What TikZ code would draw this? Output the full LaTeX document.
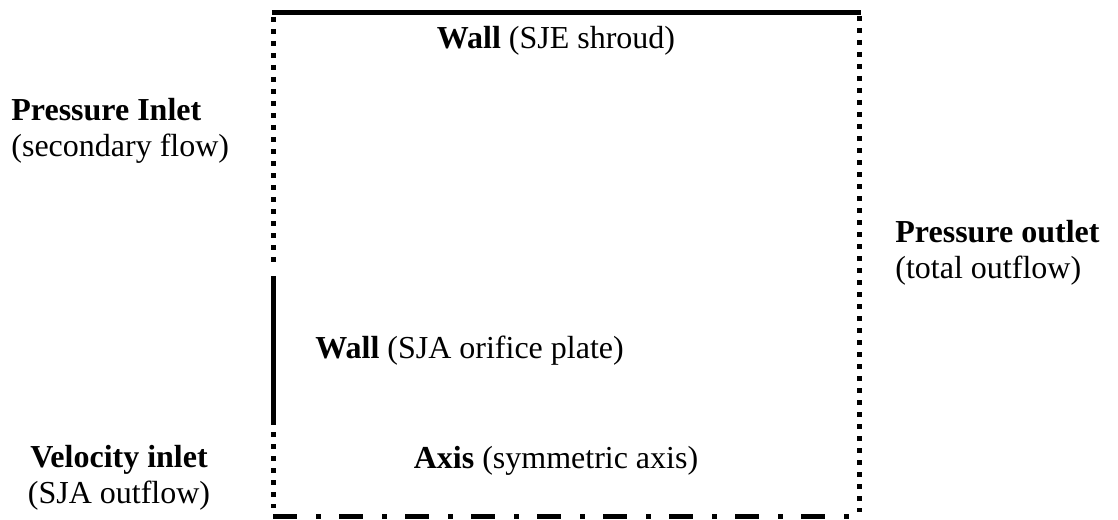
\documentclass[tikz,border=0pt]{standalone}
\usepackage{fontspec}
\setmainfont{Liberation Serif}
\begin{document}
\begin{tikzpicture}[x=0.5pt,y=-0.5pt,
  lbl/.style={inner sep=0pt,font=\fontsize{16}{18}\selectfont},
  solidedge/.style={line width=2.5pt,line cap=butt},
  dotedge/.style={line width=2.5pt,line cap=butt,dash pattern=on 2.5pt off 3.5pt},
  dashdotedge/.style={line width=2.5pt,line cap=butt,dash pattern=on 12pt off 9.5pt on 2.5pt off 9pt}]
\useasboundingbox (0,0) rectangle (1118,519);
% corners and break points of the boundary
\coordinate (tl) at (271.75,13);
\coordinate (tr) at (861,13);
\coordinate (l0) at (273,17);
\coordinate (l1) at (273,268);
\coordinate (l2) at (273,276);
\coordinate (l3) at (273,425);
\coordinate (l4) at (273,432);
\coordinate (lb) at (273,508);
\coordinate (rt) at (859,16);
\coordinate (rb) at (859,512);
\coordinate (bl) at (273,516);
\coordinate (br) at (858,516);
% boundary
\draw[solidedge] (tl) -- (tr);
\draw[dotedge] (l0) -- (l1);
\draw[solidedge] (l2) -- (l3);
\draw[dotedge] (l4) -- (lb);
\draw[dotedge] (rt) -- (rb);
\draw[dashdotedge] (bl) -- (br);
% labels
\node[lbl] (walltop) at (556,41) {\textbf{Wall} (SJE shroud)};
\node[lbl,anchor=west,align=left] (pin) at (11,131) {\textbf{Pressure Inlet}\\(secondary flow)};
\node[lbl,anchor=west,align=left] (pout) at (895,253) {\textbf{Pressure outlet}\\(total outflow)};
\node[lbl,anchor=west] (wallsja) at (315,351) {\textbf{Wall} (SJA orifice plate)};
\node[lbl,align=center] (vin) at (119,478) {\textbf{Velocity inlet}\\(SJA outflow)};
\node[lbl] (axis) at (556,461) {\textbf{Axis} (symmetric axis)};
\end{tikzpicture}
\end{document}
